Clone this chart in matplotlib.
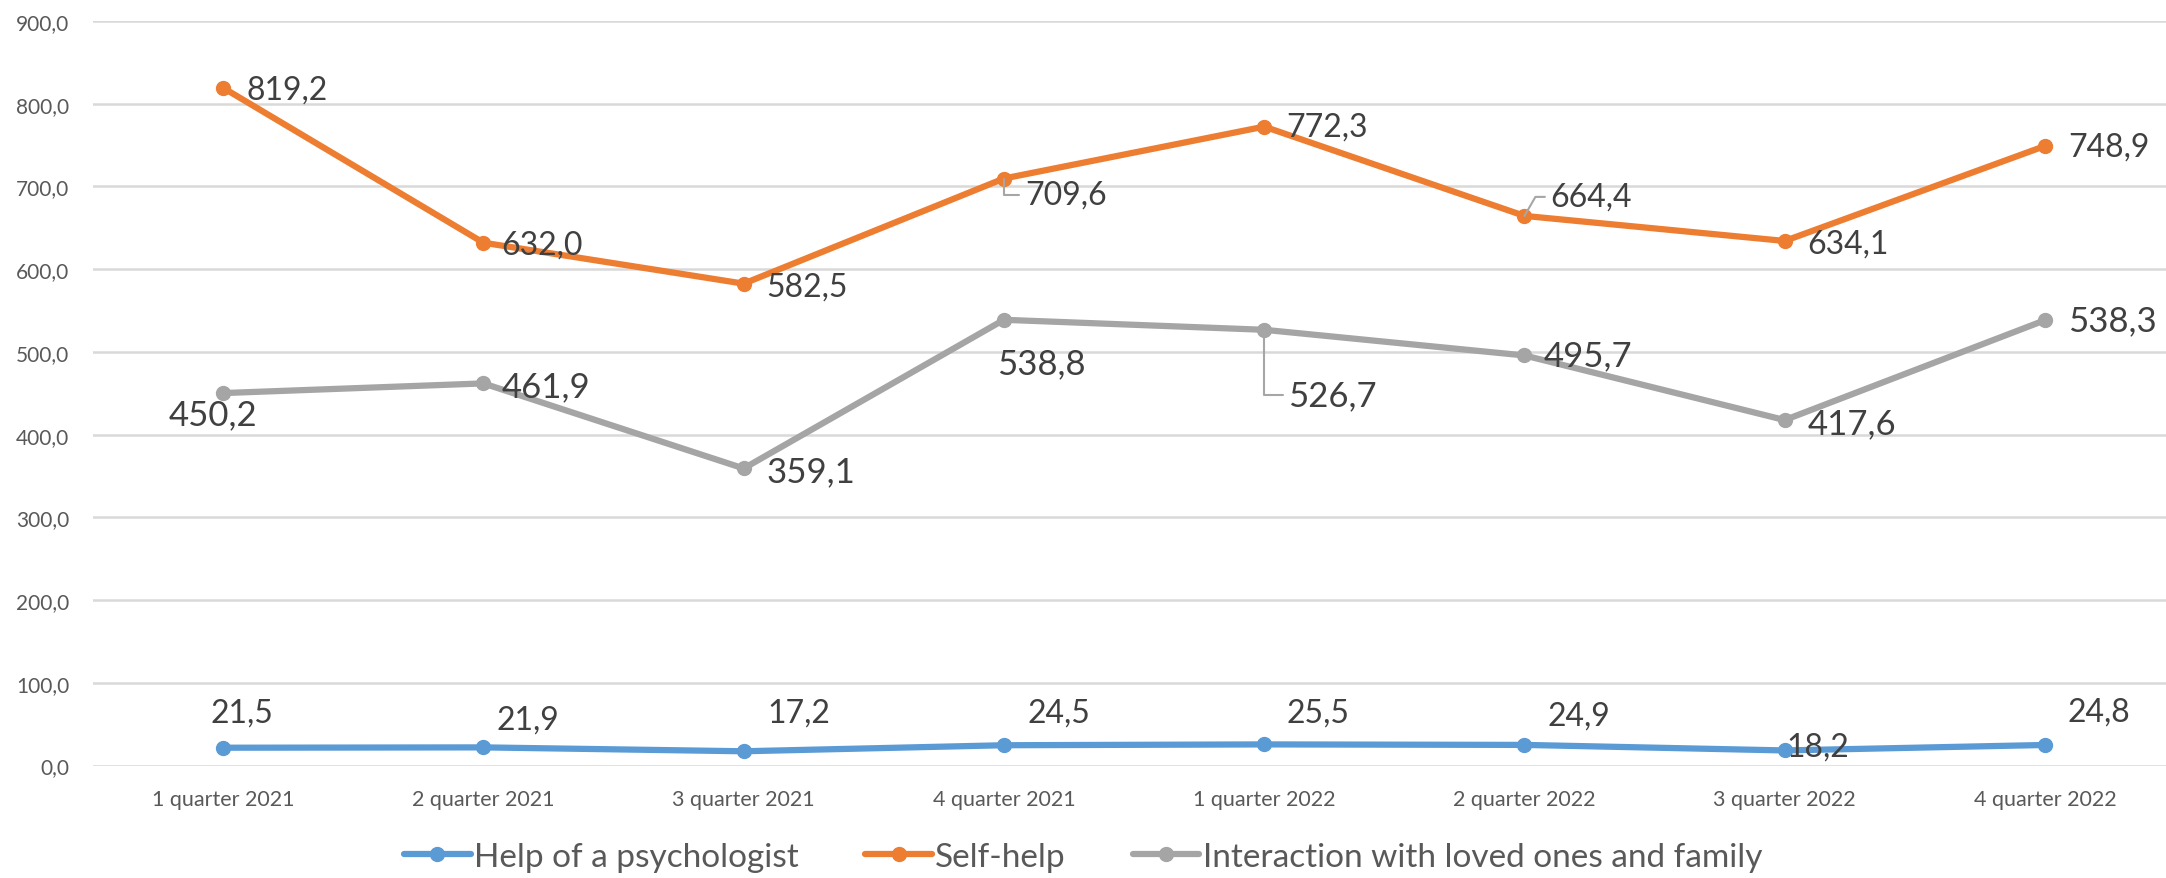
import matplotlib.pyplot as plt
import numpy as np

# data
quarters = ['1 quarter 2021', '2 quarter 2021', '3 quarter 2021', '4 quarter 2021',
            '1 quarter 2022', '2 quarter 2022', '3 quarter 2022', '4 quarter 2022']
psychologist = [21.5, 21.9, 17.2, 24.5, 25.5, 24.9, 18.2, 24.8]
self_help = [819.2, 632.0, 582.5, 709.6, 772.3, 664.4, 634.1, 748.9]
family = [450.2, 461.9, 359.1, 538.8, 526.7, 495.7, 417.6, 538.3]

c_blue = '#5B9BD5'
c_orange = '#ED7D31'
c_gray = '#A5A5A5'
txt = '#404040'

plt.rcParams['font.family'] = ['Lato', 'DejaVu Sans']

fig = plt.figure(figsize=(21.66, 8.79), dpi=100)
ax = fig.add_axes([93 / 2166, 1 - 766.5 / 879, 1 - 93 / 2166, (766.5 - 22) / 879])

x = np.arange(len(quarters))
kw = dict(lw=4.5, marker='o', ms=10, solid_capstyle='round')
ax.plot(x, psychologist, color=c_blue, label='Help of a psychologist', **kw)
ax.plot(x, self_help, color=c_orange, label='Self-help', **kw)
ax.plot(x, family, color=c_gray, label='Interaction with loved ones and family', **kw)

ax.set_xlim(-0.5, 7.465)
ax.set_ylim(0, 900)
ax.set_yticks(np.arange(0, 901, 100))
ax.set_yticklabels([f'{v:.1f}'.replace('.', ',') for v in np.arange(0, 901, 100)])
ax.set_xticks(x)
ax.set_xticklabels(quarters)
ax.tick_params(axis='y', length=0, labelsize=15, labelcolor='#595959', pad=17)
ax.tick_params(axis='x', length=0, labelsize=15.5, labelcolor='#595959', pad=17)
ax.grid(axis='y', color='#D9D9D9', lw=1.8)
ax.set_axisbelow(True)
for s in ax.spines.values():
    s.set_visible(False)


def fmt(v):
    return f'{v:.1f}'.replace('.', ',')


def lab(xi, v, dx, dy, size, ha='left', leader=None):
    props = None
    if leader:
        props = dict(arrowstyle='-', color='#A6A6A6', lw=1.5,
                     connectionstyle=leader, shrinkA=2, shrinkB=0)
    ax.annotate(fmt(v), (xi, v), xytext=(dx, dy), textcoords='offset pixels',
                ha=ha, va='center', fontsize=size, color=txt,
                arrowprops=props)


# orange labels
o_off = [(23, -2), (18, -2), (23, -3), (21, -16), (22, 0), (26, 19), (23, -3), (23, -1)]
for i, v in enumerate(self_help):
    dx, dy = o_off[i]
    leader = None
    if i == 3:
        leader = 'angle,angleA=0,angleB=90,rad=0'
    if i == 5:
        leader = 'angle,angleA=0,angleB=60,rad=0'
    lab(i, v, dx, dy, 23, leader=leader)

# gray labels
g_off = [(-10, -21, 'center'), (18, -3, 'left'), (23, -3, 'left'), (-7, -43, 'left'),
         (24, -65, 'left'), (19, 0, 'left'), (23, -3, 'left'), (23, 0, 'left')]
for i, v in enumerate(family):
    dx, dy, ha = g_off[i]
    leader = 'angle,angleA=0,angleB=90,rad=0' if i == 4 else None
    lab(i, v, dx, dy, 25, ha=ha, leader=leader)

# blue labels
b_off = [(19, 35), (44, 28), (55, 39), (55, 33), (54, 32), (54, 29), (33, 4), (54, 33)]
for i, v in enumerate(psychologist):
    dx, dy = b_off[i]
    lab(i, v, dx, dy, 23, ha='center')

leg = fig.legend(loc='center', bbox_to_anchor=(0.5, 1 - 858 / 879), ncol=3, frameon=False,
                 fontsize=24, handlelength=2.0, columnspacing=2.0, handletextpad=0.1)
for t in leg.get_texts():
    t.set_color('#595959')

fig.savefig('out.png', dpi=100)
